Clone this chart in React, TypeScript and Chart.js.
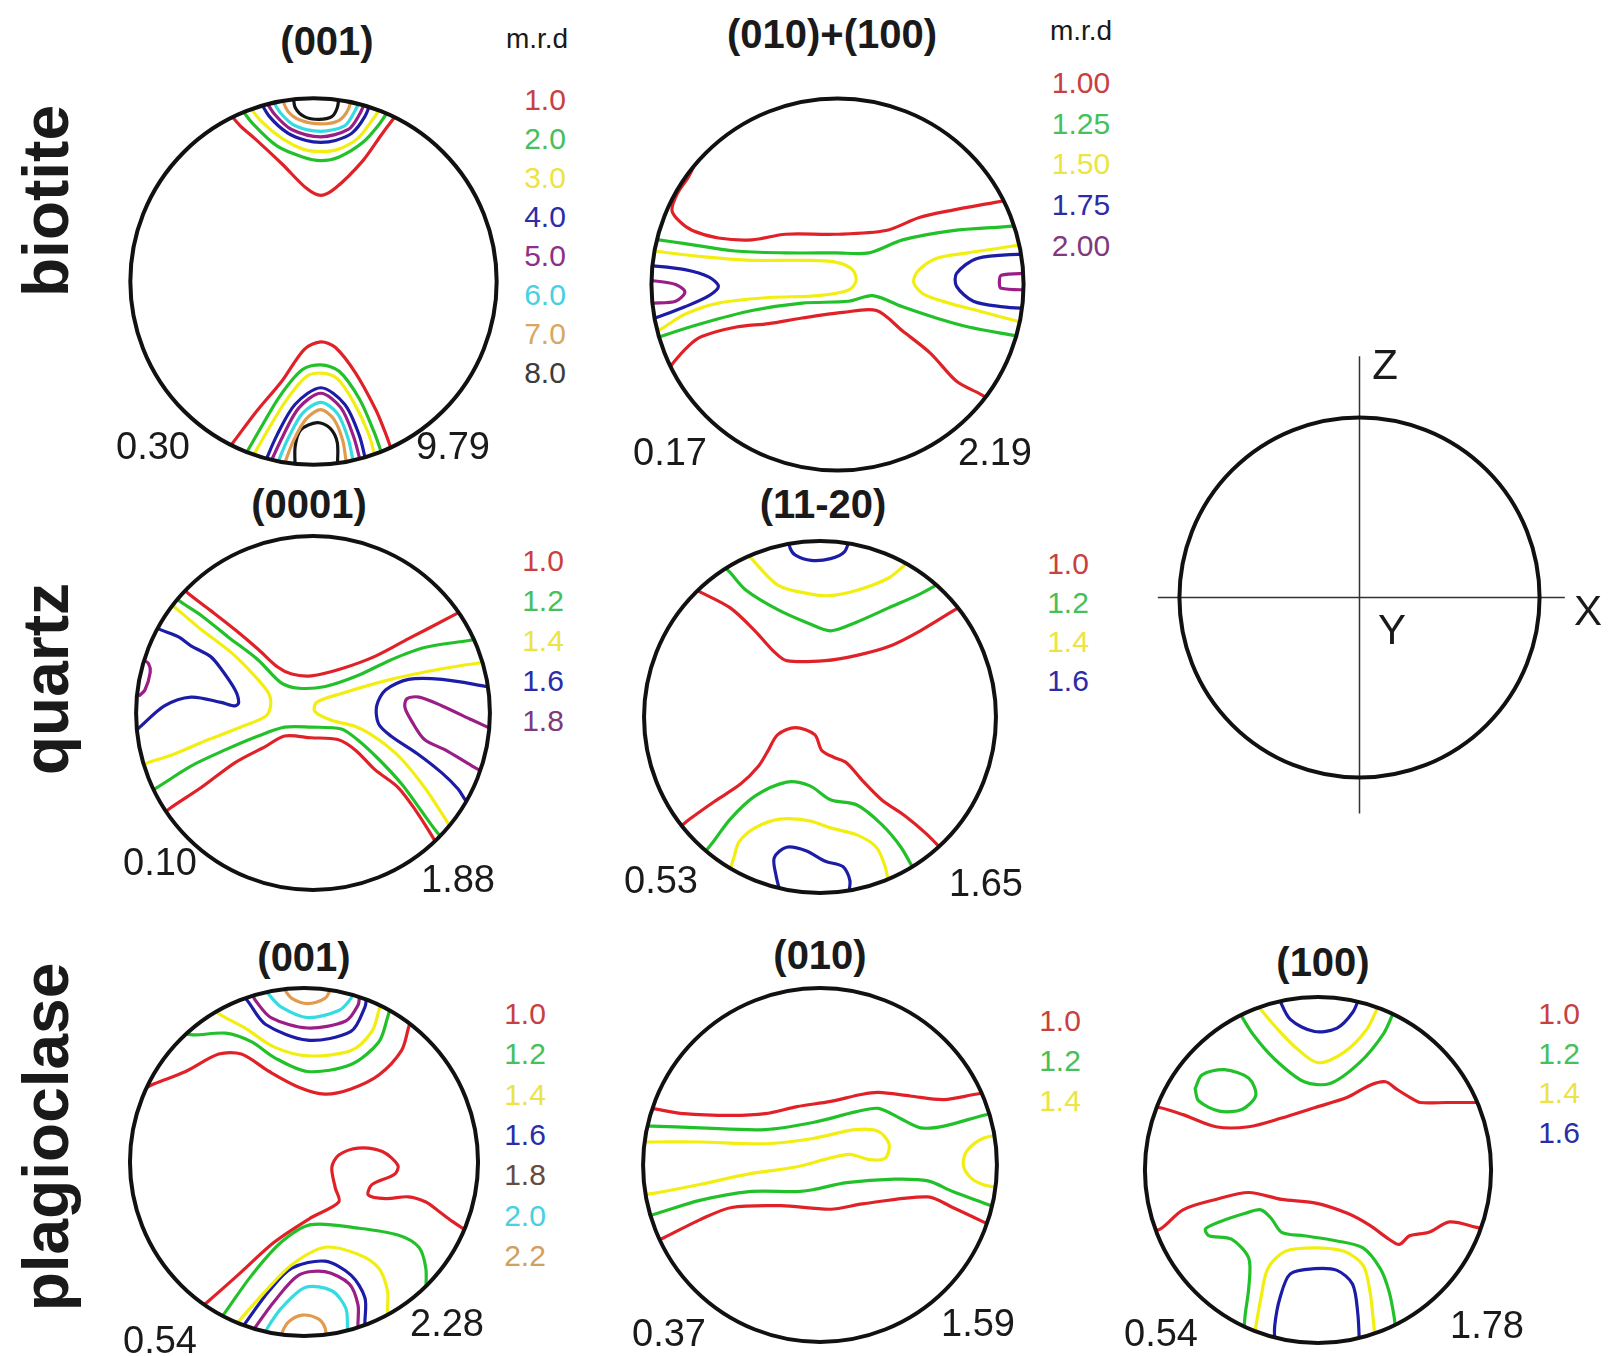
import { useEffect, useRef } from 'react';
import { Chart, registerables } from 'chart.js';

Chart.register(...registerables);

type Pt = [number, number];
// [level index, polyline in unit-circle coordinates (x right, y up)]
type Contour = [number, Pt[]];

// ---------- biotite (001) ----------
const biotite001Levels = ['1.0', '2.0', '3.0', '4.0', '5.0', '6.0', '7.0', '8.0'];
const biotite001Range = ['0.30', '9.79'];
const biotite001Contours: Contour[] = [
  [0, [[-0.47, 0.93], [-0.4, 0.85], [-0.32, 0.78], [-0.17, 0.64], [-0.04, 0.51], [0.04, 0.47], [0.12, 0.51], [0.27, 0.66], [0.37, 0.8], [0.43, 0.88], [0.47, 0.93]]],
  [1, [[-0.4, 0.95], [-0.33, 0.86], [-0.2, 0.74], [-0.06, 0.68], [0.04, 0.66], [0.14, 0.68], [0.27, 0.76], [0.36, 0.86], [0.42, 0.95]]],
  [2, [[-0.36, 0.97], [-0.29, 0.88], [-0.17, 0.78], [-0.05, 0.72], [0.04, 0.71], [0.13, 0.72], [0.24, 0.78], [0.32, 0.88], [0.38, 0.97]]],
  [3, [[-0.3, 1.0], [-0.24, 0.9], [-0.14, 0.81], [-0.04, 0.77], [0.04, 0.76], [0.12, 0.77], [0.21, 0.81], [0.28, 0.9], [0.32, 1.0]]],
  [4, [[-0.27, 1.0], [-0.21, 0.91], [-0.12, 0.83], [0.04, 0.79], [0.19, 0.83], [0.25, 0.91], [0.29, 1.0]]],
  [5, [[-0.23, 1.0], [-0.18, 0.92], [-0.1, 0.85], [0.04, 0.82], [0.17, 0.85], [0.22, 0.92], [0.26, 1.0]]],
  [6, [[-0.18, 1.02], [-0.14, 0.93], [-0.07, 0.88], [0.04, 0.86], [0.14, 0.88], [0.19, 0.94], [0.21, 1.02]]],
  [7, [[-0.11, 1.02], [-0.1, 0.95], [-0.05, 0.9], [0.03, 0.885], [0.1, 0.9], [0.13, 0.95], [0.14, 1.02]]],
  [0, [[-0.48, -0.93], [-0.44, -0.88], [-0.32, -0.72], [-0.17, -0.54], [-0.05, -0.37], [0.04, -0.33], [0.12, -0.36], [0.23, -0.5], [0.34, -0.7], [0.39, -0.82], [0.43, -0.93]]],
  [1, [[-0.38, -0.96], [-0.3, -0.82], [-0.18, -0.62], [-0.06, -0.48], [0.04, -0.455], [0.14, -0.49], [0.25, -0.64], [0.33, -0.82], [0.38, -0.96]]],
  [2, [[-0.34, -0.97], [-0.26, -0.83], [-0.15, -0.65], [-0.04, -0.52], [0.04, -0.5], [0.13, -0.53], [0.22, -0.66], [0.3, -0.83], [0.34, -0.97]]],
  [3, [[-0.27, -1.0], [-0.2, -0.84], [-0.1, -0.67], [0.04, -0.58], [0.17, -0.67], [0.25, -0.84], [0.29, -1.0]]],
  [4, [[-0.24, -1.0], [-0.17, -0.85], [-0.08, -0.69], [0.04, -0.61], [0.15, -0.69], [0.22, -0.85], [0.26, -1.0]]],
  [5, [[-0.2, -1.0], [-0.14, -0.86], [-0.06, -0.72], [0.04, -0.66], [0.13, -0.72], [0.19, -0.86], [0.22, -1.0]]],
  [6, [[-0.16, -1.0], [-0.11, -0.87], [-0.04, -0.75], [0.04, -0.7], [0.11, -0.75], [0.16, -0.87], [0.18, -1.0]]],
  [7, [[-0.1, -1.02], [-0.1, -0.9], [-0.07, -0.81], [0.02, -0.77], [0.09, -0.8], [0.13, -0.88], [0.13, -1.02]]],
];

// ---------- biotite (010)+(100) ----------
const biotite010Levels = ['1.00', '1.25', '1.50', '1.75', '2.00'];
const biotite010Range = ['0.17', '2.19'];
const biotite010Contours: Contour[] = [
  [0, [[-0.76, 0.66], [-0.8, 0.58], [-0.86, 0.49], [-0.89, 0.4], [-0.85, 0.34], [-0.78, 0.29], [-0.64, 0.25], [-0.46, 0.24], [-0.28, 0.27], [-0.01, 0.27], [0.26, 0.29], [0.44, 0.36], [0.62, 0.4], [0.84, 0.44], [0.95, 0.46]]],
  [1, [[-1.02, 0.25], [-0.96, 0.24], [-0.82, 0.22], [-0.55, 0.18], [-0.28, 0.17], [-0.01, 0.17], [0.17, 0.17], [0.35, 0.24], [0.62, 0.29], [0.89, 0.31], [1.02, 0.32]]],
  [2, [[-1.02, 0.19], [-0.98, 0.18], [-0.73, 0.15], [-0.46, 0.13], [-0.19, 0.13], [-0.01, 0.12], [0.08, 0.08], [0.1, 0.02], [0.06, -0.03], [-0.1, -0.06], [-0.37, -0.07], [-0.64, -0.1], [-0.82, -0.16], [-0.95, -0.24], [-1.02, -0.27]]],
  [2, [[1.02, 0.22], [0.9, 0.2], [0.7, 0.17], [0.53, 0.14], [0.43, 0.07], [0.41, 0.01], [0.46, -0.05], [0.6, -0.1], [0.75, -0.14], [0.9, -0.18], [1.02, -0.21]]],
  [1, [[-1.02, -0.31], [-0.95, -0.28], [-0.73, -0.21], [-0.46, -0.14], [-0.19, -0.1], [0.06, -0.09], [0.19, -0.06], [0.35, -0.12], [0.53, -0.18], [0.71, -0.23], [0.98, -0.28], [1.02, -0.29]]],
  [0, [[-0.95, -0.52], [-0.89, -0.43], [-0.8, -0.33], [-0.73, -0.28], [-0.55, -0.23], [-0.37, -0.21], [-0.19, -0.18], [0.03, -0.15], [0.21, -0.14], [0.35, -0.25], [0.5, -0.37], [0.64, -0.52], [0.77, -0.59], [0.85, -0.64]]],
  [3, [[-1.03, 0.1], [-0.99, 0.1], [-0.82, 0.08], [-0.69, 0.04], [-0.64, -0.01], [-0.69, -0.06], [-0.82, -0.12], [-0.98, -0.18], [-1.03, -0.19]]],
  [4, [[-1.03, 0.02], [-0.99, 0.02], [-0.87, 0.0], [-0.82, -0.04], [-0.87, -0.09], [-0.99, -0.1], [-1.03, -0.1]]],
  [3, [[1.03, 0.165], [1.0, 0.165], [0.75, 0.14], [0.64, 0.06], [0.64, -0.01], [0.73, -0.09], [0.89, -0.12], [1.03, -0.13]]],
  [4, [[1.03, 0.06], [0.88, 0.05], [0.87, 0.01], [0.88, -0.02], [1.03, -0.03]]],
];

// ---------- quartz (0001) ----------
const quartzCLevels = ['1.0', '1.2', '1.4', '1.6', '1.8'];
const quartzCRange = ['0.10', '1.88'];
const quartzCContours: Contour[] = [
  [0, [[-0.75, 0.72], [-0.71, 0.68], [-0.58, 0.58], [-0.44, 0.47], [-0.31, 0.36], [-0.2, 0.26], [-0.12, 0.22], [-0.01, 0.21], [0.16, 0.25], [0.35, 0.32], [0.54, 0.42], [0.79, 0.55], [0.86, 0.59]]],
  [1, [[-0.8, 0.68], [-0.75, 0.63], [-0.63, 0.55], [-0.48, 0.43], [-0.31, 0.3], [-0.18, 0.17], [-0.08, 0.14], [0.07, 0.15], [0.25, 0.21], [0.44, 0.3], [0.63, 0.37], [0.88, 0.41], [0.98, 0.43]]],
  [2, [[-0.82, 0.63], [-0.76, 0.58], [-0.63, 0.47], [-0.46, 0.34], [-0.33, 0.21], [-0.25, 0.11], [-0.24, 0.04], [-0.27, -0.02], [-0.41, -0.08], [-0.59, -0.15], [-0.78, -0.23], [-0.93, -0.28], [-1.02, -0.31]]],
  [2, [[1.02, 0.29], [0.92, 0.28], [0.73, 0.25], [0.44, 0.19], [0.16, 0.11], [0.02, 0.06], [0.01, 0.01], [0.1, -0.04], [0.25, -0.08], [0.37, -0.15], [0.5, -0.26], [0.63, -0.42], [0.73, -0.57], [0.78, -0.65]]],
  [1, [[-0.96, -0.46], [-0.88, -0.42], [-0.69, -0.3], [-0.5, -0.21], [-0.31, -0.13], [-0.16, -0.08], [-0.01, -0.08], [0.16, -0.09], [0.25, -0.15], [0.37, -0.26], [0.5, -0.4], [0.61, -0.55], [0.69, -0.66], [0.74, -0.72]]],
  [0, [[-0.88, -0.6], [-0.81, -0.54], [-0.63, -0.42], [-0.44, -0.28], [-0.27, -0.19], [-0.16, -0.13], [-0.01, -0.14], [0.14, -0.15], [0.24, -0.21], [0.35, -0.32], [0.48, -0.42], [0.58, -0.55], [0.67, -0.69], [0.71, -0.76]]],
  [3, [[-0.9, 0.49], [-0.86, 0.47], [-0.76, 0.43], [-0.69, 0.38], [-0.58, 0.32], [-0.52, 0.25], [-0.44, 0.13], [-0.42, 0.06], [-0.44, 0.04], [-0.52, 0.06], [-0.69, 0.09], [-0.84, 0.04], [-0.99, -0.09], [-1.03, -0.12]]],
  [4, [[-0.96, 0.3], [-0.93, 0.28], [-0.92, 0.23], [-0.95, 0.13], [-0.98, 0.1]]],
  [3, [[1.03, 0.14], [0.98, 0.15], [0.73, 0.19], [0.54, 0.19], [0.41, 0.13], [0.36, 0.04], [0.37, -0.06], [0.44, -0.13], [0.59, -0.23], [0.73, -0.34], [0.82, -0.43], [0.86, -0.49], [0.9, -0.54]]],
  [4, [[1.03, -0.1], [0.9, -0.04], [0.73, 0.04], [0.6, 0.09], [0.53, 0.08], [0.52, 0.03], [0.56, -0.05], [0.63, -0.15], [0.75, -0.21], [0.9, -0.3], [1.03, -0.37]]],
];

// ---------- quartz (11-20) ----------
const quartzALevels = ['1.0', '1.2', '1.4', '1.6'];
const quartzARange = ['0.53', '1.65'];
const quartzAContours: Contour[] = [
  [3, [[-0.18, 1.02], [-0.17, 0.96], [-0.14, 0.92], [-0.05, 0.89], [0.06, 0.9], [0.14, 0.94], [0.17, 1.02]]],
  [2, [[-0.42, 0.93], [-0.39, 0.9], [-0.24, 0.75], [-0.06, 0.7], [0.06, 0.69], [0.21, 0.72], [0.39, 0.79], [0.5, 0.88]]],
  [1, [[-0.55, 0.86], [-0.51, 0.82], [-0.42, 0.72], [-0.24, 0.61], [-0.06, 0.53], [0.06, 0.49], [0.21, 0.54], [0.39, 0.62], [0.57, 0.7], [0.68, 0.76]]],
  [0, [[-0.72, 0.73], [-0.68, 0.71], [-0.51, 0.62], [-0.37, 0.49], [-0.26, 0.37], [-0.19, 0.32], [0.03, 0.32], [0.21, 0.35], [0.39, 0.4], [0.57, 0.49], [0.8, 0.63]]],
  [0, [[-0.8, -0.63], [-0.74, -0.58], [-0.6, -0.48], [-0.45, -0.38], [-0.35, -0.28], [-0.3, -0.2], [-0.24, -0.1], [-0.14, -0.06], [-0.03, -0.1], [0.01, -0.19], [0.08, -0.23], [0.15, -0.26], [0.24, -0.36], [0.35, -0.47], [0.48, -0.56], [0.6, -0.66], [0.7, -0.76]]],
  [1, [[-0.68, -0.8], [-0.6, -0.7], [-0.51, -0.58], [-0.37, -0.45], [-0.19, -0.37], [-0.06, -0.39], [0.06, -0.47], [0.21, -0.5], [0.35, -0.61], [0.46, -0.74], [0.54, -0.88]]],
  [2, [[-0.52, -0.9], [-0.49, -0.8], [-0.46, -0.71], [-0.37, -0.63], [-0.23, -0.58], [-0.06, -0.59], [0.06, -0.63], [0.21, -0.67], [0.32, -0.74], [0.37, -0.85], [0.39, -0.95]]],
  [3, [[-0.22, -1.02], [-0.25, -0.9], [-0.26, -0.8], [-0.19, -0.74], [-0.08, -0.76], [0.03, -0.82], [0.13, -0.85], [0.17, -0.93], [0.16, -1.02]]],
];

// ---------- plagioclase (001) ----------
const plag001Levels = ['1.0', '1.2', '1.4', '1.6', '1.8', '2.0', '2.2'];
const plag001Range = ['0.54', '2.28'];
const plag001Contours: Contour[] = [
  [0, [[-0.92, 0.42], [-0.86, 0.45], [-0.68, 0.52], [-0.49, 0.62], [-0.36, 0.62], [-0.2, 0.52], [-0.03, 0.43], [0.12, 0.39], [0.27, 0.42], [0.43, 0.5], [0.56, 0.64], [0.6, 0.77], [0.62, 0.84]]],
  [1, [[-0.7, 0.74], [-0.63, 0.73], [-0.45, 0.74], [-0.3, 0.69], [-0.17, 0.6], [0.02, 0.52], [0.27, 0.56], [0.43, 0.69], [0.48, 0.83], [0.5, 0.9]]],
  [2, [[-0.52, 0.87], [-0.47, 0.84], [-0.34, 0.77], [-0.17, 0.66], [0.02, 0.61], [0.27, 0.64], [0.39, 0.75], [0.43, 0.87], [0.44, 0.92]]],
  [3, [[-0.35, 0.96], [-0.32, 0.92], [-0.22, 0.79], [0.02, 0.7], [0.27, 0.75], [0.35, 0.89], [0.36, 0.95]]],
  [4, [[-0.3, 0.97], [-0.28, 0.93], [-0.19, 0.83], [0.02, 0.77], [0.24, 0.81], [0.31, 0.9], [0.32, 0.96]]],
  [5, [[-0.22, 0.99], [-0.2, 0.96], [-0.13, 0.89], [0.02, 0.83], [0.2, 0.87], [0.27, 0.94], [0.28, 0.98]]],
  [6, [[-0.12, 1.02], [-0.11, 0.99], [-0.07, 0.94], [0.02, 0.91], [0.12, 0.94], [0.15, 0.99], [0.15, 1.02]]],
  [0, [[-0.6, -0.84], [-0.55, -0.8], [-0.38, -0.65], [-0.17, -0.46], [0.04, -0.32], [0.2, -0.23], [0.18, -0.15], [0.16, -0.03], [0.2, 0.04], [0.31, 0.08], [0.45, 0.06], [0.54, -0.02], [0.52, -0.07], [0.39, -0.13], [0.37, -0.19], [0.47, -0.21], [0.6, -0.2], [0.7, -0.23], [0.77, -0.28], [0.85, -0.34], [0.91, -0.38], [0.96, -0.41]]],
  [1, [[-0.48, -0.9], [-0.45, -0.86], [-0.3, -0.65], [-0.13, -0.46], [0.04, -0.36], [0.31, -0.38], [0.54, -0.42], [0.66, -0.49], [0.7, -0.61], [0.7, -0.74], [0.7, -0.8]]],
  [2, [[-0.4, -0.94], [-0.38, -0.92], [-0.22, -0.74], [-0.07, -0.59], [0.12, -0.49], [0.31, -0.53], [0.43, -0.61], [0.48, -0.74], [0.48, -0.84], [0.48, -0.9]]],
  [3, [[-0.36, -0.96], [-0.34, -0.93], [-0.2, -0.74], [-0.07, -0.61], [0.12, -0.57], [0.27, -0.65], [0.35, -0.78], [0.35, -0.92], [0.35, -0.96]]],
  [4, [[-0.29, -0.97], [-0.28, -0.95], [-0.17, -0.8], [-0.03, -0.65], [0.12, -0.63], [0.26, -0.7], [0.31, -0.82], [0.31, -0.93], [0.31, -0.97]]],
  [5, [[-0.23, -1.0], [-0.22, -0.97], [-0.13, -0.84], [0.01, -0.72], [0.16, -0.74], [0.24, -0.84], [0.25, -0.95], [0.25, -1.0]]],
  [6, [[-0.13, -1.02], [-0.13, -0.99], [-0.09, -0.92], [-0.01, -0.88], [0.08, -0.9], [0.12, -0.95], [0.13, -1.02]]],
];

// ---------- plagioclase (010) ----------
const plag010Levels = ['1.0', '1.2', '1.4'];
const plag010Range = ['0.37', '1.59'];
const plag010Contours: Contour[] = [
  [0, [[-1.02, 0.33], [-0.95, 0.32], [-0.77, 0.29], [-0.5, 0.28], [-0.31, 0.29], [-0.13, 0.33], [0.06, 0.36], [0.24, 0.4], [0.33, 0.41], [0.51, 0.39], [0.7, 0.37], [0.88, 0.4], [1.02, 0.42]]],
  [1, [[-1.02, 0.22], [-0.95, 0.22], [-0.68, 0.21], [-0.31, 0.2], [-0.04, 0.24], [0.2, 0.3], [0.33, 0.32], [0.46, 0.26], [0.57, 0.21], [0.7, 0.22], [0.92, 0.28], [1.02, 0.3]]],
  [2, [[-1.02, 0.13], [-0.95, 0.13], [-0.68, 0.13], [-0.31, 0.12], [-0.04, 0.15], [0.2, 0.2], [0.33, 0.19], [0.39, 0.12], [0.37, 0.04], [0.28, 0.03], [0.17, 0.06], [0.06, 0.04], [-0.13, -0.01], [-0.4, -0.05], [-0.68, -0.11], [-0.94, -0.16], [-1.02, -0.17]]],
  [2, [[1.02, 0.17], [0.92, 0.15], [0.83, 0.08], [0.81, 0.0], [0.85, -0.07], [0.92, -0.11], [1.02, -0.13]]],
  [1, [[-1.02, -0.3], [-0.94, -0.28], [-0.68, -0.2], [-0.4, -0.15], [-0.13, -0.15], [-0.04, -0.14], [0.15, -0.1], [0.42, -0.08], [0.61, -0.09], [0.75, -0.15], [0.94, -0.22], [1.02, -0.25]]],
  [0, [[-0.95, -0.44], [-0.88, -0.41], [-0.68, -0.31], [-0.5, -0.24], [-0.22, -0.23], [0.06, -0.25], [0.24, -0.22], [0.61, -0.18], [0.75, -0.24], [0.92, -0.32], [1.02, -0.37]]],
];

// ---------- plagioclase (100) ----------
const plag100Levels = ['1.0', '1.2', '1.4', '1.6'];
const plag100Range = ['0.54', '1.78'];
const plag100Contours: Contour[] = [
  [3, [[-0.23, 1.0], [-0.16, 0.87], [-0.02, 0.8], [0.11, 0.82], [0.2, 0.91], [0.24, 1.0]]],
  [2, [[-0.35, 0.95], [-0.23, 0.81], [-0.12, 0.7], [0.0, 0.62], [0.15, 0.68], [0.28, 0.81], [0.35, 0.95]]],
  [1, [[-0.46, 0.92], [-0.38, 0.79], [-0.25, 0.64], [-0.08, 0.51], [0.07, 0.5], [0.24, 0.62], [0.38, 0.79], [0.44, 0.92]]],
  [1, [[-0.71, 0.47], [-0.67, 0.55], [-0.54, 0.58], [-0.4, 0.53], [-0.36, 0.43], [-0.44, 0.35], [-0.57, 0.34], [-0.69, 0.4], [-0.71, 0.47]]],
  [0, [[-1.02, 0.37], [-0.91, 0.36], [-0.78, 0.32], [-0.59, 0.25], [-0.4, 0.25], [-0.21, 0.3], [-0.02, 0.36], [0.17, 0.42], [0.3, 0.49], [0.39, 0.51], [0.45, 0.47], [0.53, 0.42], [0.59, 0.39], [0.74, 0.39], [0.91, 0.39], [1.02, 0.39]]],
  [0, [[-1.02, -0.37], [-0.91, -0.34], [-0.78, -0.23], [-0.59, -0.17], [-0.4, -0.13], [-0.21, -0.17], [-0.02, -0.19], [0.17, -0.25], [0.3, -0.32], [0.41, -0.4], [0.47, -0.43], [0.53, -0.38], [0.64, -0.36], [0.76, -0.3], [0.91, -0.33], [1.02, -0.36]]],
  [1, [[-0.43, -0.95], [-0.42, -0.83], [-0.4, -0.68], [-0.4, -0.51], [-0.5, -0.4], [-0.63, -0.38], [-0.65, -0.34], [-0.57, -0.3], [-0.42, -0.25], [-0.33, -0.23], [-0.27, -0.28], [-0.21, -0.36], [-0.08, -0.38], [0.11, -0.41], [0.26, -0.45], [0.36, -0.57], [0.41, -0.7], [0.44, -0.85], [0.45, -0.95]]],
  [2, [[-0.37, -0.98], [-0.36, -0.91], [-0.33, -0.74], [-0.29, -0.57], [-0.19, -0.47], [-0.02, -0.45], [0.15, -0.47], [0.26, -0.55], [0.3, -0.7], [0.32, -0.87], [0.33, -0.98]]],
  [3, [[-0.25, -1.02], [-0.25, -0.9], [-0.22, -0.74], [-0.16, -0.6], [-0.02, -0.57], [0.11, -0.58], [0.2, -0.66], [0.23, -0.83], [0.24, -1.02]]],
];

// ---------- reference frame (X, Y, Z) ----------
const frameAxes: Pt[][] = [
  [[-1.12, 0], [1.14, 0]],
  [[0, 1.34], [0, -1.2]],
];

// ---------- colours ----------
const RED = '#e02128';
const GREEN = '#22c12a';
const YELLOW = '#f2ee12';
const BLUE = '#1c1ca6';
const PURPLE = '#9a1e86';
const CYAN = '#36dbe2';
const ORANGE = '#e29a4c';
const BLACK = '#151515';

const lineColorsBiotite001 = [RED, GREEN, YELLOW, BLUE, PURPLE, CYAN, ORANGE, BLACK];
const textColorsBiotite001 = ['#c8403f', '#46c05a', '#ece444', '#2c2ca8', '#8e3088', '#46d0e2', '#d8a862', '#3c3c3c'];
const lineColorsFive = [RED, GREEN, YELLOW, BLUE, PURPLE];
const textColorsFive = ['#c8403f', '#46c05a', '#ece444', '#2c2ca8', '#7e3a7c'];
const lineColorsPlag = [RED, GREEN, YELLOW, BLUE, PURPLE, CYAN, ORANGE];
const textColorsPlag = ['#c8403f', '#46c05a', '#ece444', '#2c2ca8', '#6a4a3e', '#46d0e2', '#d0a060'];

const FONT = '"Liberation Sans", Arial, Helvetica, sans-serif';

interface FigureSpec {
  cx: number;
  cy: number;
  r: number;
  ext: number;
  contours: Contour[];
  colors: string[];
  axes?: Pt[][];
  clip: boolean;
}

const circlePlugin = {
  id: 'poleCircle',
  beforeDatasetsDraw(chart: any, _args: any, opts: any) {
    if (!opts.clip) return;
    const { ctx, scales } = chart;
    const cx = scales.x.getPixelForValue(0);
    const cy = scales.y.getPixelForValue(0);
    const R = scales.x.getPixelForValue(1) - cx;
    ctx.save();
    ctx.beginPath();
    ctx.arc(cx, cy, R, 0, Math.PI * 2);
    ctx.clip();
  },
  afterDatasetsDraw(chart: any, _args: any, opts: any) {
    const { ctx, scales } = chart;
    if (opts.clip) ctx.restore();
    const cx = scales.x.getPixelForValue(0);
    const cy = scales.y.getPixelForValue(0);
    const R = scales.x.getPixelForValue(1) - cx;
    ctx.save();
    ctx.beginPath();
    ctx.arc(cx, cy, R, 0, Math.PI * 2);
    ctx.lineWidth = 4;
    ctx.strokeStyle = '#111';
    ctx.stroke();
    ctx.restore();
  },
};

function PoleFigure({ spec }: { spec: FigureSpec }) {
  const ref = useRef<HTMLCanvasElement>(null);
  const size = Math.round(2 * spec.r * spec.ext);
  useEffect(() => {
    const canvas = ref.current;
    if (!canvas) return;
    const datasets: any[] = spec.contours.map(([lvl, pts]) => ({
      data: pts.map(([x, y]) => ({ x, y })),
      showLine: true,
      borderColor: spec.colors[lvl],
      borderWidth: 3.2,
      pointRadius: 0,
      tension: 0.3,
      fill: false,
      borderJoinStyle: 'round',
      borderCapStyle: 'round',
      clip: false,
    }));
    (spec.axes || []).forEach((pts) => {
      datasets.push({
        data: pts.map(([x, y]) => ({ x, y })),
        showLine: true,
        borderColor: '#333',
        borderWidth: 1.5,
        pointRadius: 0,
        tension: 0,
        fill: false,
        clip: false,
      });
    });
    const chart = new Chart(canvas, {
      type: 'scatter',
      data: { datasets },
      options: {
        animation: false,
        responsive: false,
        maintainAspectRatio: false,
        devicePixelRatio: 1,
        events: [],
        layout: { padding: 0 },
        scales: {
          x: { type: 'linear', min: -spec.ext, max: spec.ext, display: false },
          y: { type: 'linear', min: -spec.ext, max: spec.ext, display: false },
        },
        plugins: {
          legend: { display: false },
          tooltip: { enabled: false },
          poleCircle: { clip: spec.clip },
        } as any,
      },
      plugins: [circlePlugin],
    });
    return () => chart.destroy();
  }, [spec]);
  return (
    <canvas
      ref={ref}
      width={size}
      height={size}
      style={{ position: 'absolute', left: spec.cx - size / 2, top: spec.cy - size / 2, width: size, height: size }}
    />
  );
}

function Label(props: { x: number; y: number; text: string; size: number; bold?: boolean; color?: string; rotate?: number }) {
  const { x, y, text, size, bold, color, rotate } = props;
  return (
    <div
      style={{
        position: 'absolute',
        left: x,
        top: y,
        transform: `translate(-50%, -50%)${rotate ? ` rotate(${rotate}deg)` : ''}`,
        fontFamily: FONT,
        fontSize: size,
        fontWeight: bold ? 700 : 400,
        color: color || '#1a1a1a',
        whiteSpace: 'nowrap',
        lineHeight: 1,
      }}
    >
      {text}
    </div>
  );
}

function LevelKey(props: { x: number; y0: number; step: number; levels: string[]; colors: string[] }) {
  const { x, y0, step, levels, colors } = props;
  return (
    <>
      {levels.map((t, i) => (
        <Label key={t + i} x={x} y={y0 + i * step} text={t} size={30} color={colors[i]} />
      ))}
    </>
  );
}

const figBiotite001: FigureSpec = { cx: 313, cy: 281, r: 183, ext: 1.04, contours: biotite001Contours, colors: lineColorsBiotite001, clip: true };
const figBiotite010: FigureSpec = { cx: 837, cy: 284, r: 186, ext: 1.04, contours: biotite010Contours, colors: lineColorsFive, clip: true };
const figQuartzC: FigureSpec = { cx: 313, cy: 713, r: 177, ext: 1.04, contours: quartzCContours, colors: lineColorsFive, clip: true };
const figQuartzA: FigureSpec = { cx: 820, cy: 717, r: 176, ext: 1.04, contours: quartzAContours, colors: lineColorsFive, clip: true };
const figFrame: FigureSpec = { cx: 1359, cy: 597, r: 180, ext: 1.38, contours: [], colors: [], axes: frameAxes, clip: false };
const figPlag001: FigureSpec = { cx: 304, cy: 1162, r: 174, ext: 1.04, contours: plag001Contours, colors: lineColorsPlag, clip: true };
const figPlag010: FigureSpec = { cx: 820, cy: 1165, r: 177, ext: 1.04, contours: plag010Contours, colors: lineColorsFive, clip: true };
const figPlag100: FigureSpec = { cx: 1318, cy: 1170, r: 173, ext: 1.04, contours: plag100Contours, colors: lineColorsFive, clip: true };

export default function App() {
  return (
    <div style={{ position: 'fixed', left: 0, top: 0, width: 1614, height: 1356, background: '#fff', overflow: 'hidden' }}>
      {/* mineral names */}
      <Label x={46} y={201} text="biotite" size={64} bold rotate={-90} />
      <Label x={46} y={679} text="quartz" size={64} bold rotate={-90} />
      <Label x={46} y={1137} text="plagioclase" size={64} bold rotate={-90} />

      {/* biotite (001) */}
      <PoleFigure spec={figBiotite001} />
      <Label x={327} y={41} text="(001)" size={40} bold />
      <Label x={537} y={39} text="m.r.d" size={28} />
      <LevelKey x={545} y0={100} step={39} levels={biotite001Levels} colors={textColorsBiotite001} />
      <Label x={153} y={446} text={biotite001Range[0]} size={38} />
      <Label x={453} y={446} text={biotite001Range[1]} size={38} />

      {/* biotite (010)+(100) */}
      <PoleFigure spec={figBiotite010} />
      <Label x={832} y={34} text="(010)+(100)" size={40} bold />
      <Label x={1081} y={31} text="m.r.d" size={28} />
      <LevelKey x={1081} y0={83} step={40.7} levels={biotite010Levels} colors={textColorsFive} />
      <Label x={670} y={452} text={biotite010Range[0]} size={38} />
      <Label x={995} y={452} text={biotite010Range[1]} size={38} />

      {/* quartz (0001) */}
      <PoleFigure spec={figQuartzC} />
      <Label x={309} y={504} text="(0001)" size={40} bold />
      <LevelKey x={543} y0={561} step={39.9} levels={quartzCLevels} colors={textColorsFive} />
      <Label x={160} y={862} text={quartzCRange[0]} size={38} />
      <Label x={458} y={879} text={quartzCRange[1]} size={38} />

      {/* quartz (11-20) */}
      <PoleFigure spec={figQuartzA} />
      <Label x={823} y={504} text="(11-20)" size={40} bold />
      <LevelKey x={1068} y0={564} step={39.1} levels={quartzALevels} colors={textColorsFive} />
      <Label x={661} y={880} text={quartzARange[0]} size={38} />
      <Label x={986} y={883} text={quartzARange[1]} size={38} />

      {/* specimen frame */}
      <PoleFigure spec={figFrame} />
      <Label x={1385} y={365} text="Z" size={42} />
      <Label x={1588} y={611} text="X" size={42} />
      <Label x={1392} y={630} text="Y" size={42} />

      {/* plagioclase (001) */}
      <PoleFigure spec={figPlag001} />
      <Label x={304} y={957} text="(001)" size={40} bold />
      <LevelKey x={525} y0={1014} step={40.3} levels={plag001Levels} colors={textColorsPlag} />
      <Label x={160} y={1340} text={plag001Range[0]} size={38} />
      <Label x={447} y={1323} text={plag001Range[1]} size={38} />

      {/* plagioclase (010) */}
      <PoleFigure spec={figPlag010} />
      <Label x={820} y={955} text="(010)" size={40} bold />
      <LevelKey x={1060} y0={1021} step={40.1} levels={plag010Levels} colors={textColorsFive} />
      <Label x={669} y={1333} text={plag010Range[0]} size={38} />
      <Label x={978} y={1323} text={plag010Range[1]} size={38} />

      {/* plagioclase (100) */}
      <PoleFigure spec={figPlag100} />
      <Label x={1323} y={962} text="(100)" size={40} bold />
      <LevelKey x={1559} y0={1014} step={39.5} levels={plag100Levels} colors={textColorsFive} />
      <Label x={1161} y={1333} text={plag100Range[0]} size={38} />
      <Label x={1487} y={1325} text={plag100Range[1]} size={38} />
    </div>
  );
}
